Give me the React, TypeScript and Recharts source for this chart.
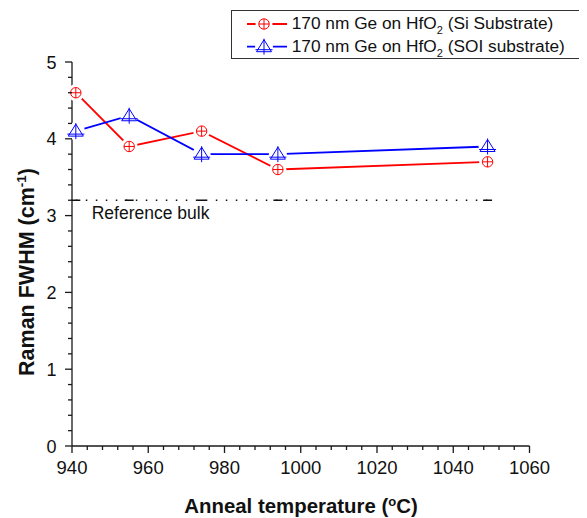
import { Line, LineChart, XAxis, YAxis } from 'recharts';

// anneal temperatures (°C) and Raman FWHM (cm-1)
const temps = [941, 955, 974, 994, 1049];
const siSubstrate = [4.6, 3.9, 4.1, 3.6, 3.7];
const soiSubstrate = [4.1, 4.3, 3.8, 3.8, 3.9];
const referenceBulk = [3.2, 3.2, 3.2, 3.2, 3.2];

const xMajor = [940, 960, 980, 1000, 1020, 1040, 1060];
const xTicks = [
  940, 944, 948, 952, 956, 960, 964, 968, 972, 976, 980, 984, 988, 992, 996, 1000,
  1004, 1008, 1012, 1016, 1020, 1024, 1028, 1032, 1036, 1040, 1044, 1048, 1052, 1056, 1060,
];
const yMajor = [0, 1, 2, 3, 4, 5];
const yTicks = [
  0, 0.2, 0.4, 0.6, 0.8, 1, 1.2, 1.4, 1.6, 1.8, 2, 2.2, 2.4, 2.6, 2.8, 3, 3.2, 3.4,
  3.6, 3.8, 4, 4.2, 4.4, 4.6, 4.8, 5,
];

const data = temps.map((t, i) => ({
  temp: t,
  si: siSubstrate[i],
  soi: soiSubstrate[i],
  ref: referenceBulk[i],
}));

const FONT = "'Liberation Sans', Arial, sans-serif";
const AXIS = '#1a1a1a';

function CircleMark({ cx, cy, halo }: any) {
  if (cx == null || cy == null) return null;
  return (
    <g>
      {halo && <circle cx={cx} cy={cy} r={8.5} fill="#fff" />}
      <circle cx={cx} cy={cy} r={5.2} fill="none" stroke="#ff0000" strokeWidth={1} />
      <line x1={cx - 5.2} y1={cy} x2={cx + 5.2} y2={cy} stroke="#ff0000" strokeWidth={1} />
      <line x1={cx} y1={cy - 5.2} x2={cx} y2={cy + 5.2} stroke="#ff0000" strokeWidth={1} />
    </g>
  );
}

function TriMark({ cx, cy, halo }: any) {
  if (cx == null || cy == null) return null;
  return (
    <g>
      {halo && <circle cx={cx} cy={cy} r={9} fill="#fff" />}
      <path
        d={`M${cx},${cy - 7} L${cx + 7.5},${cy + 5} L${cx - 7.5},${cy + 5} Z`}
        fill="none"
        stroke="#0000ff"
        strokeWidth={1}
      />
      <line x1={cx - 8.5} y1={cy + 3} x2={cx + 8.5} y2={cy + 3} stroke="#0000ff" strokeWidth={1} />
      <line x1={cx} y1={cy - 8} x2={cx} y2={cy + 8} stroke="#0000ff" strokeWidth={1} />
    </g>
  );
}

function DashMark({ cx, cy }: any) {
  if (cx == null || cy == null) return null;
  return <line x1={cx - 4.5} y1={cy} x2={cx + 4.5} y2={cy} stroke="#111" strokeWidth={1.5} />;
}

function XTick({ x, y, payload }: any) {
  const major = xMajor.includes(payload.value);
  return (
    <g>
      <line x1={x} y1={y} x2={x} y2={y + (major ? 7 : 4)} stroke={AXIS} strokeWidth={1.3} />
      {major && (
        <text x={x} y={y + 28} textAnchor="middle" fontSize={18.5} fontFamily={FONT} fill="#111">
          {payload.value}
        </text>
      )}
    </g>
  );
}

function YTick({ x, y, payload }: any) {
  const major = yMajor.includes(payload.value);
  return (
    <g>
      <line x1={x} y1={y} x2={x - (major ? 7 : 4)} y2={y} stroke={AXIS} strokeWidth={1.3} />
      {major && (
        <text x={x - 15.5} y={y + 6.5} textAnchor="end" fontSize={18} fontFamily={FONT} fill="#111">
          {payload.value}
        </text>
      )}
    </g>
  );
}

export default function App() {
  return (
    <div style={{ position: 'relative', width: 579, height: 510 }}>
      <LineChart
        width={579}
        height={510}
        data={data}
        margin={{ top: 54, right: 57.5, left: 24, bottom: 32 }}
      >
        <XAxis
          dataKey="temp"
          type="number"
          domain={[940, 1060]}
          ticks={xTicks}
          interval={0}
          tick={<XTick />}
          tickLine={false}
          tickSize={0}
          tickMargin={0}
          height={40}
          stroke={AXIS}
          strokeWidth={1.3}
        />
        <YAxis
          type="number"
          domain={[0, 5]}
          ticks={yTicks}
          interval={0}
          tick={<YTick />}
          tickLine={false}
          tickSize={0}
          tickMargin={0}
          width={40}
          stroke={AXIS}
          strokeWidth={1.3}
        />
        <Line
          dataKey="ref"
          stroke="#111"
          strokeWidth={1.5}
          strokeDasharray="1.5 8.5"
          dot={<DashMark />}
          activeDot={false}
          isAnimationActive={false}
        />
        <Line
          dataKey="si"
          stroke="#ff0000"
          strokeWidth={1.8}
          dot={<CircleMark halo />}
          activeDot={false}
          isAnimationActive={false}
        />
        <Line
          dataKey="soi"
          stroke="#0000ff"
          strokeWidth={1.8}
          dot={<TriMark halo />}
          activeDot={false}
          isAnimationActive={false}
        />
      </LineChart>
      <svg
        width={579}
        height={510}
        style={{ position: 'absolute', left: 0, top: 0, pointerEvents: 'none' }}
        fontFamily={FONT}
      >
        <rect x={223.5} y={2.5} width={352} height={48} fill="#fff" stroke="#333" strokeWidth={1} />
        <line x1={239} y1={16} x2={279} y2={16} stroke="#ff0000" strokeWidth={1.8} />
        <CircleMark cx={256} cy={16} halo />
        <text x={283.7} y={21.3} fontSize={17.3} fill="#111">
          170 nm Ge on HfO
          <tspan dy={5} fontSize={11}>2</tspan>
          <tspan dy={-5}> (Si Substrate)</tspan>
        </text>
        <line x1={239} y1={38.7} x2={279} y2={38.7} stroke="#0000ff" strokeWidth={1.8} />
        <TriMark cx={256} cy={38.7} halo />
        <text x={283.7} y={43.7} fontSize={17.3} fill="#111">
          170 nm Ge on HfO
          <tspan dy={5} fontSize={11}>2</tspan>
          <tspan dy={-5}> (SOI substrate)</tspan>
        </text>
        <text x={83.7} y={210.5} fontSize={17.5} fill="#111">
          Reference bulk
        </text>
        <text
          transform="translate(25.5,264) rotate(-90)"
          textAnchor="middle"
          fontSize={21.5}
          fontWeight="bold"
          fill="#111"
        >
          Raman FWHM (cm
          <tspan dy={-7.5} fontSize={13.5}>-1</tspan>
          <tspan dy={7.5}>)</tspan>
        </text>
        <text x={293} y={505} textAnchor="middle" fontSize={20.4} fontWeight="bold" fill="#111">
          Anneal temperature (
          <tspan dy={-7.5} fontSize={13}>o</tspan>
          <tspan dy={7.5}>C)</tspan>
        </text>
      </svg>
    </div>
  );
}
